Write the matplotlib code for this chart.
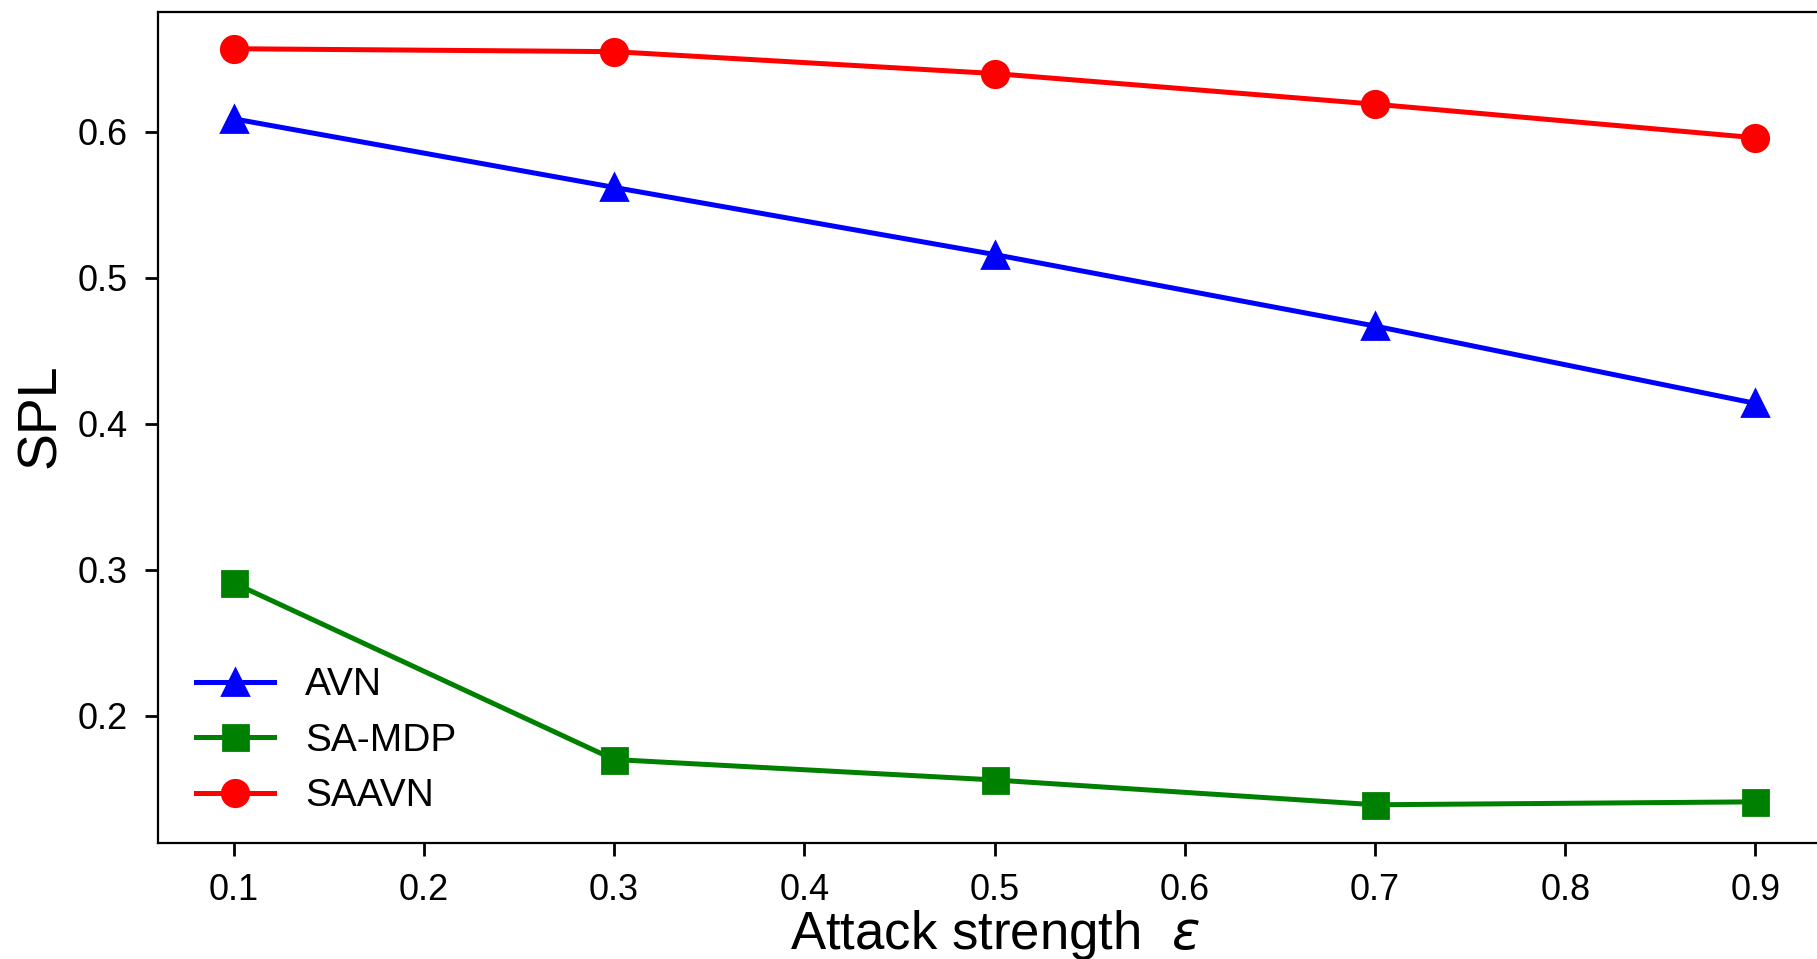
import numpy as np
import matplotlib.pyplot as plt

plt.rcParams['font.family'] = ['Liberation Sans', 'DejaVu Sans']
plt.rcParams['mathtext.fontset'] = 'dejavusans'

# Data
attack_strength = [0.1, 0.3, 0.5, 0.7, 0.9]
avn_spl = [0.609, 0.562, 0.516, 0.467, 0.414]
sa_mdp_spl = [0.291, 0.170, 0.156, 0.139, 0.141]
saavn_spl = [0.657, 0.655, 0.640, 0.619, 0.596]
x_ticks = [0.1, 0.2, 0.3, 0.4, 0.5, 0.6, 0.7, 0.8, 0.9]
y_ticks = [0.2, 0.3, 0.4, 0.5, 0.6]

fig = plt.figure(figsize=(9.085, 4.795), dpi=200)
ax = fig.add_axes([0.0867, 0.1208, 1.008 - 0.0867, 0.988 - 0.1208])

ax.plot(attack_strength, avn_spl, color='blue', marker='^', markersize=9.5, linewidth=1.8, label='AVN')
ax.plot(attack_strength, sa_mdp_spl, color='green', marker='s', markersize=9, linewidth=1.8, label='SA-MDP')
ax.plot(attack_strength, saavn_spl, color='red', marker='o', markersize=9.5, linewidth=1.8, label='SAAVN')

ax.set_xlim(0.06, 0.94)
ax.set_ylim(0.1127, 0.6825)
ax.set_xticks(x_ticks)
ax.set_yticks(y_ticks)
ax.tick_params(labelsize=13, length=4.6, width=1, pad=6)

ax.set_xlabel(r'Attack strength  $\varepsilon$', fontsize=19, labelpad=0)
ax.set_ylabel('SPL', fontsize=20)
ax.yaxis.set_label_coords(-0.054, 0.514)

ax.legend(loc='lower left', frameon=False, fontsize=14, handlelength=2.0,
          borderaxespad=0.6, labelspacing=0.5, bbox_to_anchor=(0, -0.012))

fig.savefig('out.png', dpi=200)
